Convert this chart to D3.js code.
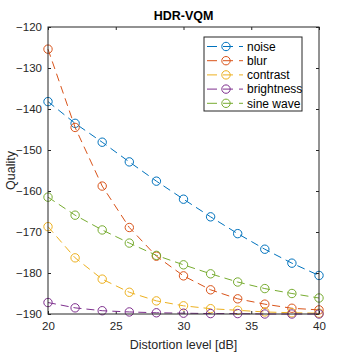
<!DOCTYPE html>
<html>
<head>
<meta charset="utf-8">
<script src="https://cdn.jsdelivr.net/npm/d3@7"></script>
<style>
  body { margin: 0; background: #fff; }
  text { font-family: "Liberation Sans", Arial, sans-serif; }
</style>
</head>
<body>
<div id="chart"></div>
<script>
var levels = [20, 22, 24, 26, 28, 30, 32, 34, 36, 38, 40];
var noise = [-138.2, -143.5, -148.1, -152.9, -157.6, -162.0, -166.3, -170.4, -174.2, -177.6, -180.6];
var blur = [-125.4, -144.5, -158.8, -168.9, -175.9, -180.7, -184.1, -186.3, -187.6, -188.6, -189.0];
var contrast = [-168.7, -176.3, -181.5, -184.7, -186.8, -188.0, -188.7, -189.1, -189.5, -189.7, -189.8];
var brightness = [-187.2, -188.5, -189.2, -189.5, -189.7, -189.8, -189.9, -189.9, -190.0, -190.0, -190.0];
var sineWave = [-161.5, -165.9, -169.5, -172.7, -175.7, -178.0, -180.2, -182.2, -183.8, -185.0, -186.1];
var seriesNames = ["noise", "blur", "contrast", "brightness", "sine wave"];
var colors = ["#0072BD", "#D95319", "#EDB120", "#7E2F8E", "#77AC30"];
var xTicks = [20, 25, 30, 35, 40];
var yTicks = [-120, -130, -140, -150, -160, -170, -180, -190];

var series = [noise, blur, contrast, brightness, sineWave].map(function(vals, i) {
  return { name: seriesNames[i], color: colors[i],
    values: vals.map(function(v, j) { return { x: levels[j], y: v }; }) };
});

var width = 354, height = 354;
var margin = {top: 27, right: 35, bottom: 40, left: 48};
var w = width - margin.left - margin.right;
var h = height - margin.top - margin.bottom;

var svg = d3.select("#chart").append("svg")
  .attr("width", width)
  .attr("height", height);

var g = svg.append("g")
  .attr("transform", "translate(" + margin.left + "," + margin.top + ")");

var x = d3.scaleLinear().domain([20, 40]).range([0, w]);
var y = d3.scaleLinear().domain([-190, -120]).range([h, 0]);

function styleAxis(sel, showText) {
  sel.select(".domain").remove();
  sel.selectAll(".tick line").attr("stroke", "#262626");
  sel.selectAll(".tick text")
    .attr("fill", "#262626")
    .style("font-size", "11.5px")
    .style("display", showText ? null : "none");
}

g.append("g")
  .attr("transform", "translate(0," + h + ")")
  .call(d3.axisBottom(x).tickValues(xTicks).tickSizeInner(-3).tickSizeOuter(0).tickPadding(8))
  .call(styleAxis, true);

g.append("g")
  .call(d3.axisTop(x).tickValues(xTicks).tickSizeInner(-3).tickSizeOuter(0))
  .call(styleAxis, false);

g.append("g")
  .call(d3.axisLeft(y).tickValues(yTicks).tickSizeInner(-3).tickSizeOuter(0).tickPadding(6))
  .call(styleAxis, true);

g.append("g")
  .attr("transform", "translate(" + w + ",0)")
  .call(d3.axisRight(y).tickValues(yTicks).tickSizeInner(-3).tickSizeOuter(0))
  .call(styleAxis, false);

var line = d3.line()
  .x(function(d) { return x(d.x); })
  .y(function(d) { return y(d.y); });

var sg = g.selectAll(".series")
  .data(series)
  .enter().append("g")
  .attr("class", "series");

sg.append("path")
  .attr("d", function(d) { return line(d.values); })
  .attr("fill", "none")
  .attr("stroke", function(d) { return d.color; })
  .attr("stroke-width", 1)
  .attr("stroke-dasharray", "8,5");

sg.selectAll("circle")
  .data(function(d) { return d.values.map(function(v) { return {x: v.x, y: v.y, color: d.color}; }); })
  .enter().append("circle")
  .attr("cx", function(d) { return x(d.x); })
  .attr("cy", function(d) { return y(d.y); })
  .attr("r", 4.2)
  .attr("fill", "none")
  .attr("stroke", function(d) { return d.color; })
  .attr("stroke-width", 1);

// box
g.append("rect")
  .attr("width", w)
  .attr("height", h)
  .attr("fill", "none")
  .attr("stroke", "#262626")
  .attr("stroke-width", 1);

// legend
var lx = 204 - margin.left, ly = 37 - margin.top;
var legend = g.append("g").attr("transform", "translate(" + lx + "," + ly + ")");
legend.append("rect")
  .attr("width", 98)
  .attr("height", 74)
  .attr("fill", "#fff")
  .attr("stroke", "#262626")
  .attr("stroke-width", 1);

var items = legend.selectAll(".item")
  .data(series)
  .enter().append("g")
  .attr("transform", function(d, i) { return "translate(0," + (9.5 + i * 14.2) + ")"; });

items.append("line")
  .attr("x1", 3).attr("x2", 39)
  .attr("stroke", function(d) { return d.color; })
  .attr("stroke-dasharray", "10,6");
items.append("circle")
  .attr("cx", 22).attr("r", 4.2)
  .attr("fill", "none")
  .attr("stroke", function(d) { return d.color; });
items.append("text")
  .attr("x", 43).attr("dy", "0.35em")
  .attr("fill", "#000")
  .style("font-size", "12px")
  .text(function(d) { return d.name; });

// title and labels
svg.append("text")
  .attr("x", margin.left + w / 2).attr("y", 20)
  .attr("text-anchor", "middle")
  .style("font-size", "12.5px")
  .style("font-weight", "bold")
  .attr("fill", "#000")
  .text("HDR-VQM");

svg.append("text")
  .attr("x", margin.left + w / 2).attr("y", 349)
  .attr("text-anchor", "middle")
  .style("font-size", "12.5px")
  .attr("fill", "#262626")
  .text("Distortion level [dB]");

svg.append("text")
  .attr("transform", "translate(15," + (margin.top + h / 2) + ") rotate(-90)")
  .attr("text-anchor", "middle")
  .style("font-size", "12.5px")
  .attr("fill", "#262626")
  .text("Quality");
</script>
</body>
</html>
